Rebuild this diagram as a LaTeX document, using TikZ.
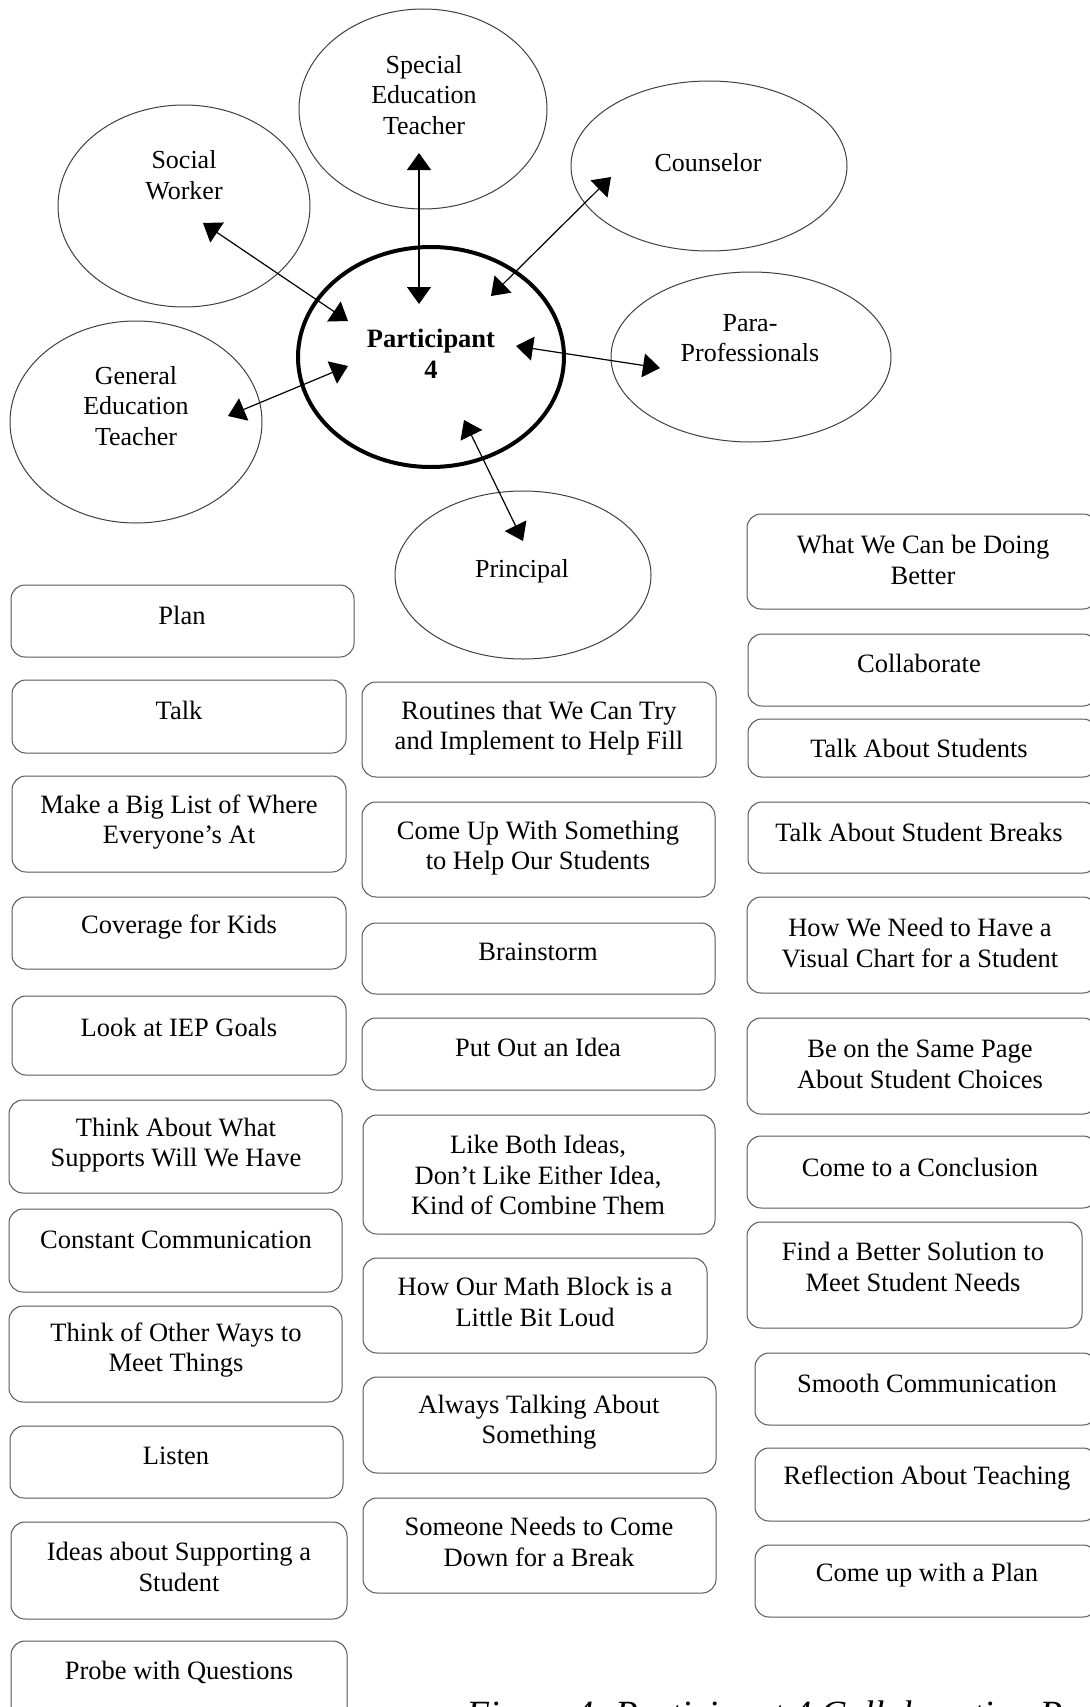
\documentclass[tikz,border=0pt]{standalone}
\usepackage{fontspec}
\setmainfont{Liberation Serif}
\usetikzlibrary{arrows.meta,shapes.geometric}

% rounded card: name, x1, y1, x2, y2, text x, text y, text
\newcommand\cardbox[8]{%
  \pgfmathsetmacro\cardW{(#4-#2)*0.5}%
  \pgfmathsetmacro\cardH{(#5-#3)*0.5}%
  \node[card, minimum width=\cardW pt, minimum height=\cardH pt] (#1) at ({(#2+#4)/2},{(#3+#5)/2}) {};
  \node[cardtext] (#1-t) at (#6,#7) {#8};
}

\begin{document}
\begin{tikzpicture}[x=0.5pt,y=-0.5pt,
  role/.style={ellipse, draw=black!75, line width=0.5pt, inner sep=0pt},
  roletext/.style={align=center, font=\fontsize{13}{15.25}\selectfont, inner sep=0pt},
  hub/.style={ellipse, draw=black, line width=2pt, inner sep=0pt},
  link/.style={line width=0.6pt, {Triangle[length=8.5pt,width=12pt]}-{Triangle[length=8.5pt,width=12pt]}},
  card/.style={draw=black!65, line width=0.5pt, rounded corners=7pt, inner sep=0pt},
  cardtext/.style={align=center, font=\fontsize{13.25}{15.25}\selectfont, inner sep=0pt},
]
\useasboundingbox (0,0) rectangle (1090,1707);
\clip (0,0) rectangle (1090,1707);
\fill[white] (0,0) rectangle (1090,1707);

% roles around the participant
\node[role, minimum width=126pt, minimum height=101pt] (sw) at (184,206) {};
\node[role, minimum width=124pt, minimum height=100pt] (se) at (423,109) {};
\node[role, minimum width=126pt, minimum height=101pt] (ge) at (136,422) {};
\node[role, minimum width=138pt, minimum height=85pt] (co) at (709,166) {};
\node[role, minimum width=140pt, minimum height=85pt] (pp) at (751,357) {};
\node[role, minimum width=128pt, minimum height=84pt] (pr) at (523,575) {};
\node[hub, minimum width=133pt, minimum height=110pt] (p4) at (431,357) {};

\node[roletext] (sw-t) at (184,175) {Social\\Worker};
\node[roletext] (se-t) at (424,95) {Special\\Education\\Teacher};
\node[roletext] (ge-t) at (136,406) {General\\Education\\Teacher};
\node[roletext] (co-t) at (708,163) {Counselor};
\node[roletext] (pp-t) at (750,338) {Para-\\Professionals};
\node[roletext] (pr-t) at (522,571) {Principal};
\node[roletext, font=\fontsize{13.25}{15.25}\selectfont\bfseries] (p4-t) at (431,354) {Participant\\4};

% arrow ends
\coordinate (sw-a) at (203,223);  \coordinate (sw-b) at (348,321);
\coordinate (se-a) at (419,153);  \coordinate (se-b) at (419,304);
\coordinate (co-a) at (611,177);  \coordinate (co-b) at (491,296);
\coordinate (pp-a) at (660,368);  \coordinate (pp-b) at (516,346);
\coordinate (ge-a) at (228,416);  \coordinate (ge-b) at (348,366);
\coordinate (pr-a) at (523,541);  \coordinate (pr-b) at (464,420);

\draw[link] (sw-a) -- (sw-b);
\draw[link] (se-a) -- (se-b);
\draw[link] (co-a) -- (co-b);
\draw[link] (pp-a) -- (pp-b);
\draw[link] (ge-a) -- (ge-b);
\draw[link] (pr-a) -- (pr-b);

% left column
\cardbox{l1}{11}{585}{354}{657}{182}{615}{Plan}
\cardbox{l2}{12}{680}{346}{753}{179}{710}{Talk}
\cardbox{l3}{12}{776}{346}{872}{179}{822}{Make a Big List of Where\\Everyone’s At}
\cardbox{l4}{12}{897}{346}{969}{179}{927}{Coverage for Kids}
\cardbox{l5}{12}{996}{346}{1075}{179}{1027}{Look at IEP Goals}
\cardbox{l6}{9}{1100}{342}{1193}{176}{1145}{Think About What\\Supports Will We Have}
\cardbox{l7}{9}{1209}{342}{1292}{176}{1240}{Constant Communication}
\cardbox{l8}{9}{1306}{342}{1402}{176}{1350}{Think of Other Ways to\\Meet Things}
\cardbox{l9}{10}{1426}{343}{1498}{176}{1456}{Listen}
\cardbox{l10}{11}{1522}{347}{1619}{179}{1567}{Ideas about Supporting a\\Student}
\cardbox{l11}{11}{1641}{347}{1740}{179}{1672}{Probe with Questions}

% middle column
\cardbox{m1}{362}{682}{716}{777}{539}{728}{Routines that We Can Try\\and Implement to Help Fill}
\cardbox{m2}{362}{802}{715}{897}{538}{848}{Come Up With Something\\to Help Our Students}
\cardbox{m3}{362}{923}{715}{994}{538}{952}{Brainstorm}
\cardbox{m4}{362}{1018}{715}{1090}{538}{1047}{Put Out an Idea}
\cardbox{m5}{363}{1115}{715}{1234}{538}{1175}{Like Both Ideas,\\Don’t Like Either Idea,\\Kind of Combine Them}
\cardbox{m6}{363}{1258}{707}{1353}{535}{1302}{How Our Math Block is a\\Little Bit Loud}
\cardbox{m7}{363}{1377}{716}{1473}{539}{1422}{Always Talking About\\Something}
\cardbox{m8}{363}{1498}{716}{1593}{539}{1542}{Someone Needs to Come\\Down for a Break}

% right column
\cardbox{r1}{747}{514}{1097}{609}{923}{560}{What We Can be Doing\\Better}
\cardbox{r2}{748}{634}{1097}{706}{919}{663}{Collaborate}
\cardbox{r3}{748}{719}{1097}{777}{919}{748}{Talk About Students}
\cardbox{r4}{748}{802}{1097}{873}{919}{832}{Talk About Student Breaks}
\cardbox{r5}{747}{897}{1097}{993}{920}{943}{How We Need to Have a\\Visual Chart for a Student}
\cardbox{r6}{747}{1018}{1097}{1114}{920}{1064}{Be on the Same Page\\About Student Choices}
\cardbox{r7}{747}{1136}{1097}{1208}{920}{1167}{Come to a Conclusion}
\cardbox{r8}{747}{1222}{1082}{1328}{913}{1267}{Find a Better Solution to\\Meet Student Needs}
\cardbox{r9}{755}{1353}{1097}{1425}{927}{1383}{Smooth Communication}
\cardbox{r10}{755}{1448}{1097}{1521}{927}{1478}{Reflection About Teaching}
\cardbox{r11}{755}{1545}{1097}{1617}{927}{1575}{Come up with a Plan}

% caption
\node[anchor=base west, inner sep=0pt, font=\fontsize{18.5}{22}\selectfont\itshape] (caption) at (466,1726) {Figure 4. Participant 4 Collaboration Process};
\end{tikzpicture}
\end{document}
